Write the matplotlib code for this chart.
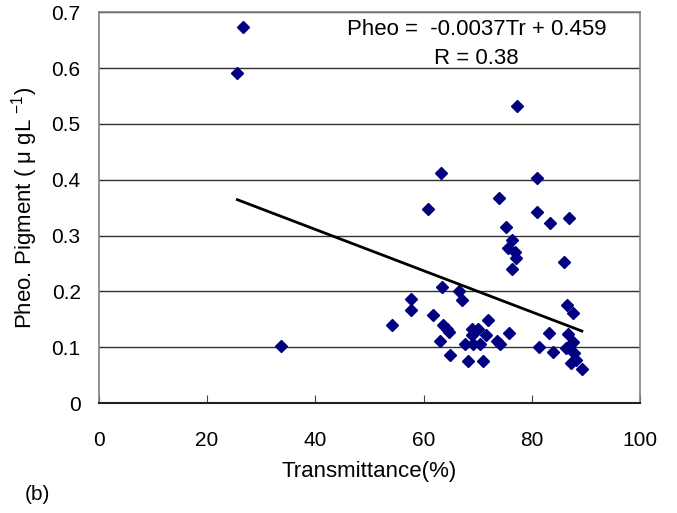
import matplotlib
matplotlib.use("Agg")
import matplotlib.pyplot as plt
import numpy as np

plt.rcParams['font.family'] = ['Liberation Sans', 'DejaVu Sans']
plt.rcParams['mathtext.fontset'] = 'custom'
plt.rcParams['mathtext.rm'] = 'Liberation Sans'
plt.rcParams['mathtext.it'] = 'Liberation Sans'

# Transmittance (%) vs Pheo pigment
transmittance = [26.6, 25.6, 33.7, 77.2, 63.2, 80.9, 74.0, 60.8, 80.9, 86.9,
                 83.4, 75.2, 76.4, 75.5, 76.9, 77.1, 76.4, 86.0, 63.4, 66.6,
                 67.1, 57.7, 57.6, 86.4, 87.5, 61.7, 71.9, 54.2, 63.5, 64.3,
                 64.7, 68.9, 70.0, 75.7, 83.2, 86.7, 71.5, 68.9, 63.1, 73.6,
                 74.1, 67.7, 69.1, 70.4, 87.6, 81.3, 86.3, 64.9, 83.8, 87.8,
                 68.1, 71.0, 87.2, 88.2, 89.2]
pheo = [0.673, 0.592, 0.103, 0.532, 0.412, 0.403, 0.368, 0.348, 0.342, 0.331,
        0.322, 0.316, 0.292, 0.278, 0.270, 0.260, 0.241, 0.252, 0.207, 0.200,
        0.185, 0.186, 0.166, 0.175, 0.162, 0.157, 0.149, 0.140, 0.139, 0.133,
        0.128, 0.133, 0.132, 0.126, 0.126, 0.123, 0.121, 0.122, 0.112, 0.111,
        0.105, 0.106, 0.106, 0.105, 0.109, 0.100, 0.098, 0.086, 0.091, 0.090,
        0.075, 0.075, 0.071, 0.077, 0.061]

slope = -0.0037
intercept = 0.459

fig = plt.figure(figsize=(6.77, 5.13), dpi=100)
ax = fig.add_axes([0.1458, 0.2144, 0.8000, 0.7616])

ax.set_axisbelow(True)
ax.yaxis.grid(True, color='#303030', linewidth=1.0)

ax.plot(transmittance, pheo, linestyle='none', marker='D', markersize=6.2,
        color='#000080', markeredgecolor='#000080')

fit_x = np.array([min(transmittance), max(transmittance)])
ax.plot(fit_x, slope * fit_x + intercept, color='black', linewidth=2)

ax.set_xlim(0, 100)
ax.set_ylim(0, 0.7)
ax.set_xticks([0, 20, 40, 60, 80, 100])
ax.set_yticks([0, 0.1, 0.2, 0.3, 0.4, 0.5, 0.6, 0.7])
ax.set_yticklabels(['0', '0.1', '0.2', '0.3', '0.4', '0.5', '0.6', '0.7'])

ax.tick_params(axis='x', direction='in', length=6, pad=20, labelsize=15, color='#404040')
ax.tick_params(axis='y', length=0, pad=13, labelsize=15)

for side in ['left', 'top', 'right']:
    ax.spines[side].set_color('#808080')
    ax.spines[side].set_linewidth(1.2)
ax.spines['bottom'].set_color('#202020')
ax.spines['bottom'].set_linewidth(1.5)

ax.set_xlabel('Transmittance(%)', fontsize=16, labelpad=8)
ax.set_ylabel('Pheo. Pigment ( μ gL $^{-1}$)', fontsize=16, labelpad=8)

ax.text(69.8, 0.670, 'Pheo =  -0.0037Tr + 0.459', fontsize=16, ha='center', va='center')
ax.text(69.8, 0.618, 'R = 0.38', fontsize=16, ha='center', va='center')

fig.text(37 / 677, 1 - 494 / 513, '(b)', fontsize=15, ha='center', va='center')

fig.savefig('out.png', dpi=100)
